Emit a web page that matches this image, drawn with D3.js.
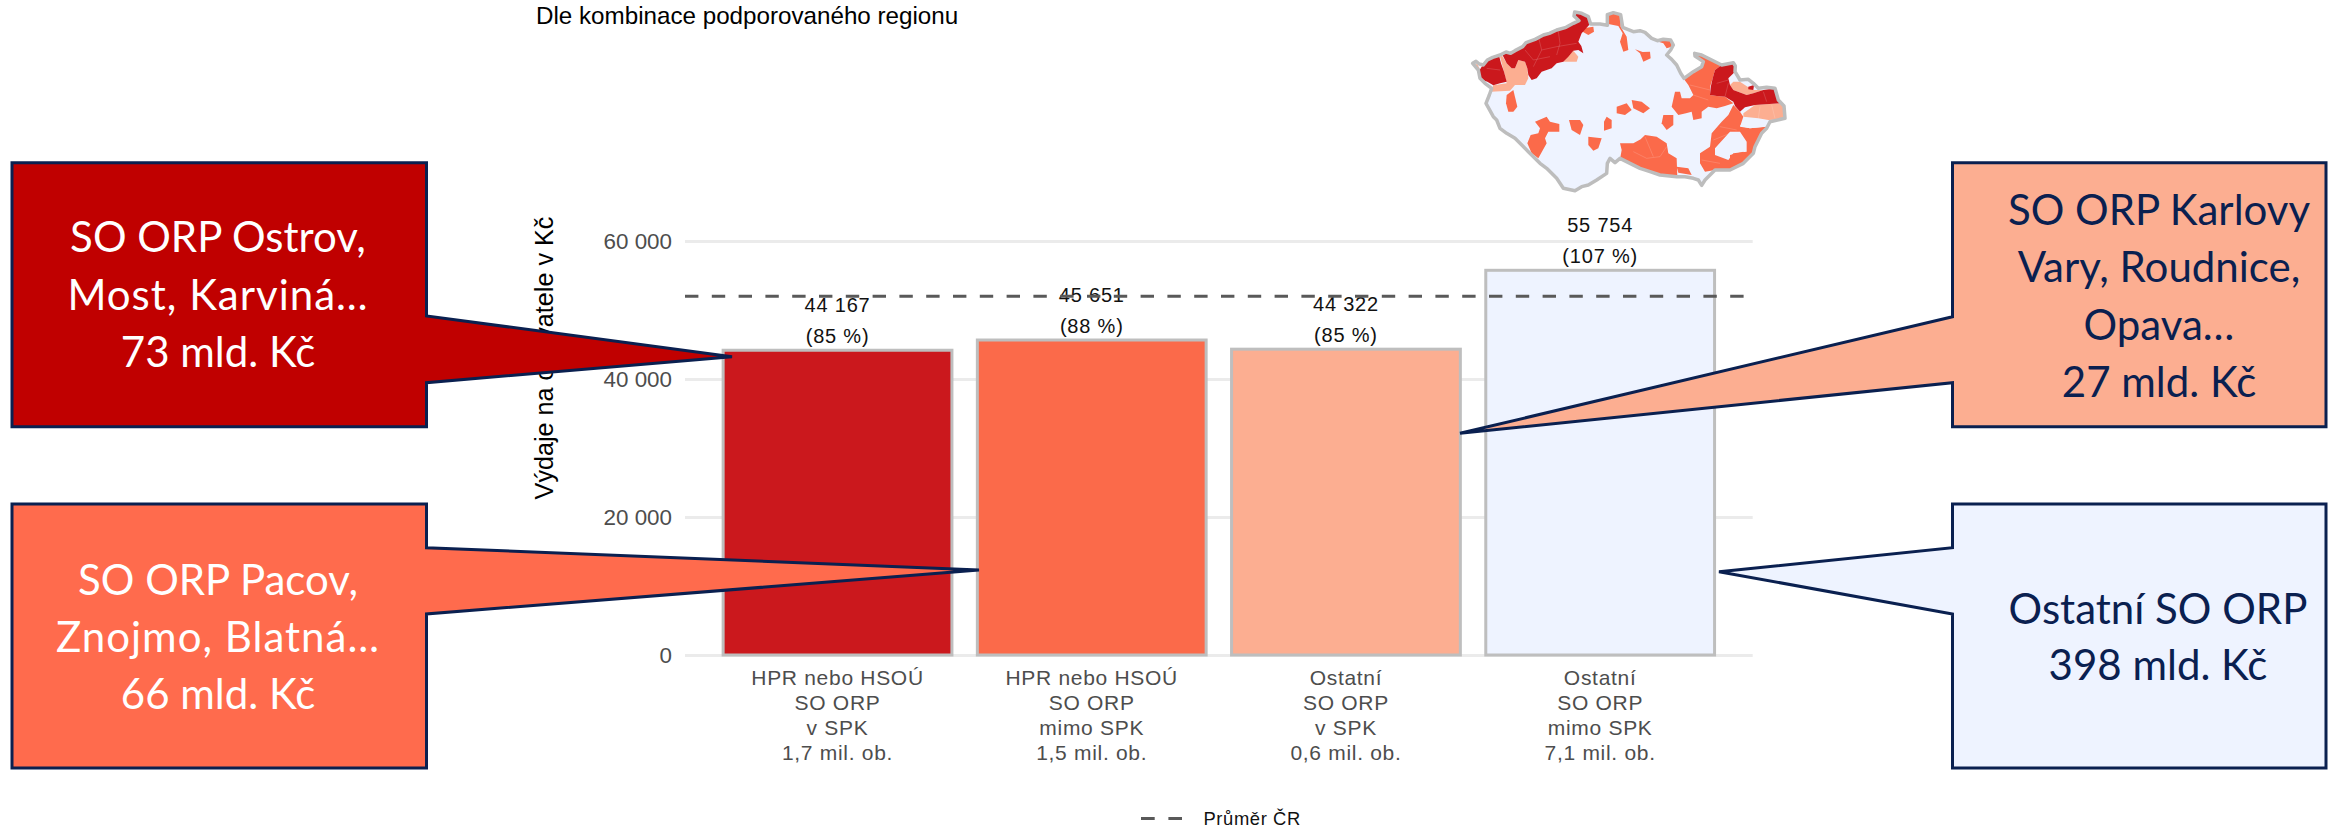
<!DOCTYPE html>
<html>
<head>
<meta charset="utf-8">
<title>Výdaje na obyvatele</title>
<script src="https://cdn.jsdelivr.net/npm/d3@7"></script>
<style>
  html, body { margin: 0; padding: 0; background: #fff; overflow: hidden; }
  text { font-family: "Liberation Sans", Arial, sans-serif; }
  .callout text { font-family: Lato, sans-serif; }
</style>
</head>
<body>
<div id="chart"></div>
<script>
var width = 2349;
var height = 829;

// chart values
var categories = ["HPR_SPK", "HPR_mimo", "Ost_SPK", "Ost_mimo"];
var values = [44167, 45651, 44322, 55754];
var percents = [85, 88, 85, 107];
var categoryLines = [
  ["HPR nebo HSOÚ", "SO ORP", "v SPK", "1,7 mil. ob."],
  ["HPR nebo HSOÚ", "SO ORP", "mimo SPK", "1,5 mil. ob."],
  ["Ostatní", "SO ORP", "v SPK", "0,6 mil. ob."],
  ["Ostatní", "SO ORP", "mimo SPK", "7,1 mil. ob."]
];
var barColors = ["#CB181D", "#FB6A4A", "#FCAE91", "#EEF3FF"];
var yTicks = [0, 20000, 40000, 60000];
var meanValue = 52000;

var subtitle = "Dle kombinace podporovaného regionu";
var yTitle = "Výdaje na obyvatele v Kč";
var legendLabel = "Průměr ČR";

// callouts: box, pointer and text
var navy = "#0A2050";
var callouts = [
  { x0: 12, x1: 426.5, y0: 162.7, y1: 426.7, p0: 316, p1: 382.7, tip: [732, 356.7], fill: "#C00000", ink: "#fff",
    cx: 218, lineY: [237, 295, 352], spacing: [0, 1, 0], lines: ["SO ORP Ostrov,", "Most, Karviná…", "73 mld. Kč"] },
  { x0: 12, x1: 426.5, y0: 504, y1: 768, p0: 547.7, p1: 614, tip: [979, 570], fill: "#FF6B4D", ink: "#fff",
    cx: 218, lineY: [580, 637, 694], spacing: [0, 1, 0], lines: ["SO ORP Pacov,", "Znojmo, Blatná…", "66 mld. Kč"] },
  { x0: 1952.5, x1: 2326, y0: 162.7, y1: 426.7, p0: 316.7, p1: 382.7, tip: [1460, 433.3], fill: "#FCAE91", ink: navy,
    cx: 2159, lineY: [210, 267, 325, 382], spacing: [0, 0, 0, 0], lines: ["SO ORP Karlovy", "Vary, Roudnice,", "Opava…", "27 mld. Kč"] },
  { x0: 1952.5, x1: 2326, y0: 504, y1: 768, p0: 547.7, p1: 614, tip: [1719, 571.7], fill: "#EEF3FF", ink: navy,
    cx: 2158, lineY: [609, 665], spacing: [0, 0], lines: ["Ostatní SO ORP", "398 mld. Kč"] }
];

// map shapes, traced in a 1350x600 space
var mapOutline = [[218,190],[228,184],[238,192],[250,195],[262,180],[278,172],[300,165],[318,156],[332,160],[345,152],[368,140],[378,128],[405,118],[430,105],[448,100],[470,90],[498,82],[520,70],[537,62],[522,48],[524,36],[545,40],[565,50],[572,72],[600,72],[622,76],[622,44],[640,38],[662,44],[668,82],[700,95],[720,92],[735,97],[755,115],[772,122],[790,118],[812,120],[820,135],[812,150],[800,165],[815,178],[830,195],[842,220],[852,235],[880,215],[905,200],[910,185],[885,168],[884,160],[905,165],[935,180],[965,195],[1000,188],[1006,198],[1005,215],[1020,240],[1045,238],[1060,250],[1075,265],[1100,262],[1125,265],[1135,300],[1152,318],[1155,355],[1110,365],[1100,385],[1085,400],[1075,420],[1065,440],[1060,460],[1030,490],[990,510],[945,510],[915,540],[905,556],[895,540],[880,535],[855,530],[830,530],[780,525],[750,515],[720,505],[690,490],[660,475],[645,488],[630,475],[622,490],[620,520],[590,540],[565,555],[545,560],[525,572],[490,565],[470,535],[440,505],[420,490],[385,455],[345,415],[320,400],[300,385],[290,360],[280,350],[258,310],[268,285],[275,265],[255,250],[240,235],[235,210]];
var darkRegions = [
  [[232,222],[245,200],[262,182],[280,172],[298,170],[303,190],[312,215],[320,245],[300,250],[280,256],[262,245],[248,240]],
  [[305,160],[320,190],[335,205],[345,205],[355,180],[375,185],[382,205],[385,225],[395,240],[410,235],[425,215],[455,205],[470,190],[490,185],[505,170],[520,152],[535,150],[550,160],[544,138],[535,125],[545,100],[570,72],[565,40],[520,30],[500,70],[410,100],[345,140]],
  [[945,210],[965,195],[1005,190],[1005,215],[985,235],[990,255],[1000,270],[1040,285],[1060,280],[1090,270],[1125,265],[1140,310],[1065,315],[1035,322],[1020,335],[1005,318],[1000,305],[975,290],[950,288],[930,285],[932,262],[938,235]],
  [[1045,260],[1062,255],[1060,270],[1045,268]]
];
var midRegions = [
  [[550,85],[580,80],[582,95],[565,105],[548,95]],
  [[625,72],[622,40],[662,44],[662,80],[680,110],[685,150],[670,155],[660,125],[668,100],[655,78]],
  [[705,148],[728,156],[750,155],[752,175],[730,185],[720,160]],
  [[775,125],[790,118],[815,118],[815,140],[800,145],[790,130]],
  [[850,235],[880,215],[905,195],[885,165],[905,165],[965,195],[945,210],[938,235],[930,262],[930,285],[950,288],[975,290],[1000,310],[975,318],[950,325],[925,320],[905,335],[905,355],[880,360],[875,335],[858,340],[835,345],[815,320],[825,275],[840,275],[845,295],[870,295],[880,285],[865,255]],
  [[1000,315],[1020,335],[1030,350],[1020,380],[1050,385],[1100,380],[1085,410],[1065,440],[1060,460],[1030,490],[990,510],[945,510],[915,515],[900,490],[900,460],[930,440],[935,400],[965,365],[985,345]],
  [[830,500],[865,505],[875,525],[835,518]],
  [[660,430],[700,430],[722,418],[735,405],[770,410],[800,430],[805,460],[830,475],[832,532],[780,528],[720,508],[660,478],[665,450]],
  [[790,345],[820,345],[820,375],[800,390],[785,370]],
  [[650,320],[680,310],[695,330],[675,345],[650,340]],
  [[695,300],[725,305],[750,325],[730,340],[700,325]],
  [[620,350],[635,360],[635,385],[612,392],[612,365]],
  [[507,360],[540,360],[550,375],[540,405],[515,390]],
  [[565,410],[605,415],[595,445],[580,452],[565,435]],
  [[405,365],[440,350],[450,365],[478,372],[478,395],[445,395],[435,415],[440,430],[415,475],[395,460],[382,430],[392,405],[415,400],[420,385]],
  [[320,285],[340,270],[352,320],[340,335],[325,335],[318,310]]
];
var lightRegions = [
  [[220,195],[232,192],[242,212],[232,218]],
  [[300,170],[312,215],[320,250],[280,256],[272,275],[330,272],[345,255],[375,255],[385,235],[382,205],[375,185],[355,180],[345,205],[335,205],[320,190],[305,165]],
  [[490,185],[520,152],[535,170],[530,185]],
  [[1000,245],[1020,245],[1045,262],[1060,270],[1090,270],[1060,280],[1040,285],[1000,270],[990,255]],
  [[1030,340],[1065,315],[1140,310],[1160,320],[1160,358],[1105,360],[1075,355],[1030,350]]
];
var paleRegions = [
  [[1020,378],[1040,355],[1075,358],[1105,365],[1095,380],[1050,385]],
  [[945,445],[990,395],[1020,395],[1040,425],[1040,455],[1000,460],[985,480],[945,465]]
];
var midPatches = [
  [[990,465],[1030,455],[1040,475],[1010,498],[990,480]]
];
var innerLines = [
  [[415,110],[425,150],[410,180],[400,200]],
  [[475,95],[480,130],[470,165]],
  [[425,150],[470,140],[530,130]],
  [[375,150],[400,180],[450,170]],
  [[260,205],[300,210]],
  [[950,250],[985,240]],
  [[975,290],[985,250]],
  [[1090,275],[1100,305]],
  [[700,455],[740,475],[780,470],[800,440]],
  [[735,410],[760,470]],
  [[870,255],[930,270]],
  [[880,285],[925,300]],
  [[960,380],[1010,390]],
  [[940,420],[990,400]],
  [[905,480],[960,490]],
  [[1080,320],[1075,355]],
  [[1115,315],[1125,355]]
];

var numberLocale = d3.formatLocale({ decimal: ",", thousands: " ", grouping: [3], currency: ["", " Kč"] });
var fmt = numberLocale.format(",d");

var svg = d3
  .select("#chart")
  .append("svg")
  .attr("width", width)
  .attr("height", height)
  .style("display", "block");

var x = d3.scaleBand().domain(categories).range([685, 1752.7]).paddingInner(0.1).paddingOuter(0.15);
var y = d3.scaleLinear().domain([0, 60000]).range([655, 241]);

// subtitle
svg.append("text")
  .attr("x", 536)
  .attr("y", 23.5)
  .attr("font-size", 24.2)
  .attr("fill", "#000")
  .text(subtitle);

// grid + y tick labels
var yAxis = svg.append("g")
  .attr("transform", "translate(685,0)")
  .call(d3.axisLeft(y).tickValues(yTicks).tickFormat(fmt).tickSizeInner(-1067.7).tickSizeOuter(0).tickPadding(13));
yAxis.select(".domain").remove();
yAxis.selectAll("line").attr("stroke", "#EBEBEB").attr("stroke-width", 3);
yAxis.selectAll("text")
  .attr("font-family", "Liberation Sans")
  .attr("font-size", 22.4)
  .attr("fill", "#4D4D4D");

// y title
svg.append("text")
  .attr("transform", "translate(553,358) rotate(-90)")
  .attr("text-anchor", "middle")
  .attr("font-size", 25.2)
  .attr("fill", "#000")
  .text(yTitle);

// bars
svg.selectAll("rect.bar")
  .data(values)
  .enter()
  .append("rect")
  .attr("class", "bar")
  .attr("x", function (d, i) { return x(categories[i]); })
  .attr("y", function (d) { return y(d); })
  .attr("width", x.bandwidth())
  .attr("height", function (d) { return y(0) - y(d); })
  .attr("fill", function (d, i) { return barColors[i]; })
  .attr("stroke", "#BEBEBE")
  .attr("stroke-width", 3);

// value labels
var labels = svg.selectAll("g.label")
  .data(values)
  .enter()
  .append("g")
  .attr("class", "label")
  .attr("transform", function (d, i) {
    return "translate(" + (x(categories[i]) + x.bandwidth() / 2) + "," + y(d) + ")";
  });
labels.append("text")
  .attr("y", -38)
  .attr("text-anchor", "middle")
  .attr("font-size", 20)
  .attr("letter-spacing", 0.8)
  .attr("fill", "#111")
  .text(function (d) { return fmt(d); });
labels.append("text")
  .attr("y", -7.5)
  .attr("text-anchor", "middle")
  .attr("font-size", 20)
  .attr("letter-spacing", 0.8)
  .attr("fill", "#111")
  .text(function (d, i) { return "(" + percents[i] + " %)"; });

// mean line
svg.append("line")
  .attr("x1", 685)
  .attr("x2", 1752.7)
  .attr("y1", y(meanValue))
  .attr("y2", y(meanValue))
  .attr("stroke", "#595959")
  .attr("stroke-width", 3)
  .attr("stroke-dasharray", "13.4 13.4");

// category labels
var catLabels = svg.selectAll("text.cat")
  .data(categoryLines)
  .enter()
  .append("text")
  .attr("class", "cat")
  .attr("text-anchor", "middle")
  .attr("font-size", 21)
  .attr("letter-spacing", 0.7)
  .attr("fill", "#4D4D4D");
catLabels.selectAll("tspan")
  .data(function (d, i) { return d.map(function (t) { return { t: t, c: categories[i] }; }); })
  .enter()
  .append("tspan")
  .attr("x", function (d) { return x(d.c) + x.bandwidth() / 2; })
  .attr("y", function (d, i) { return 685 + i * 25; })
  .text(function (d) { return d.t; });

// legend
svg.append("line")
  .attr("x1", 1141)
  .attr("x2", 1182)
  .attr("y1", 818.5)
  .attr("y2", 818.5)
  .attr("stroke", "#595959")
  .attr("stroke-width", 3)
  .attr("stroke-dasharray", "13.7 13.7");
svg.append("text")
  .attr("x", 1203.5)
  .attr("y", 825)
  .attr("font-size", 18.4)
  .attr("letter-spacing", 0.6)
  .attr("fill", "#111")
  .text(legendLabel);

// map
var mapX = d3.scaleLinear().domain([0, 1350]).range([1400, 1850]);
var mapY = d3.scaleLinear().domain([0, 600]).range([0, 200]);
var mapLine = d3.line()
  .x(function (d) { return mapX(d[0]); })
  .y(function (d) { return mapY(d[1]); })
  .curve(d3.curveLinearClosed);
var openLine = d3.line()
  .x(function (d) { return mapX(d[0]); })
  .y(function (d) { return mapY(d[1]); });

svg.append("clipPath")
  .attr("id", "cz")
  .append("path")
  .attr("d", mapLine(mapOutline));

var mapG = svg.append("g");
mapG.append("path")
  .attr("d", mapLine(mapOutline))
  .attr("fill", "#EEF3FF");

var mapInner = mapG.append("g").attr("clip-path", "url(#cz)");
function drawRegions(list, color) {
  mapInner.selectAll(null)
    .data(list)
    .enter()
    .append("path")
    .attr("d", mapLine)
    .attr("fill", color);
}
drawRegions(midRegions, "#FB6A4A");
drawRegions(paleRegions, "#EEF3FF");
drawRegions(midPatches, "#FB6A4A");
drawRegions(lightRegions, "#FCAE91");
drawRegions(darkRegions, "#CB181D");
mapInner.selectAll(null)
  .data(innerLines)
  .enter()
  .append("path")
  .attr("d", openLine)
  .attr("fill", "none")
  .attr("stroke", "#fff")
  .attr("stroke-opacity", 0.2)
  .attr("stroke-width", 0.8);

mapG.append("path")
  .attr("d", mapLine(mapOutline))
  .attr("fill", "none")
  .attr("stroke", "#BDBDBD")
  .attr("stroke-width", 3.5)
  .attr("stroke-linejoin", "round");

// callouts on top of everything
var calloutLine = d3.line().curve(d3.curveLinearClosed);
var callout = svg.selectAll("g.callout")
  .data(callouts)
  .enter()
  .append("g")
  .attr("class", "callout");
callout.append("path")
  .attr("d", function (d) {
    var left = d.tip[0] > d.x0;
    var side = left ? d.x1 : d.x0;
    var other = left ? d.x0 : d.x1;
    return calloutLine([
      [other, d.y0], [side, d.y0], [side, d.p0], d.tip, [side, d.p1], [side, d.y1], [other, d.y1]
    ]);
  })
  .attr("fill", function (d) { return d.fill; })
  .attr("stroke", navy)
  .attr("stroke-width", 3);
callout.each(function (d) {
  d3.select(this).selectAll("text")
    .data(d.lines)
    .enter()
    .append("text")
    .attr("x", d.cx)
    .attr("y", function (t, i) { return d.lineY[i]; })
    .attr("dy", "0.35em")
    .attr("text-anchor", "middle")
    .attr("font-size", 42)
    .attr("letter-spacing", function (t, i) { return d.spacing[i]; })
    .attr("fill", d.ink)
    .text(function (t) { return t; });
});
</script>
</body>
</html>
